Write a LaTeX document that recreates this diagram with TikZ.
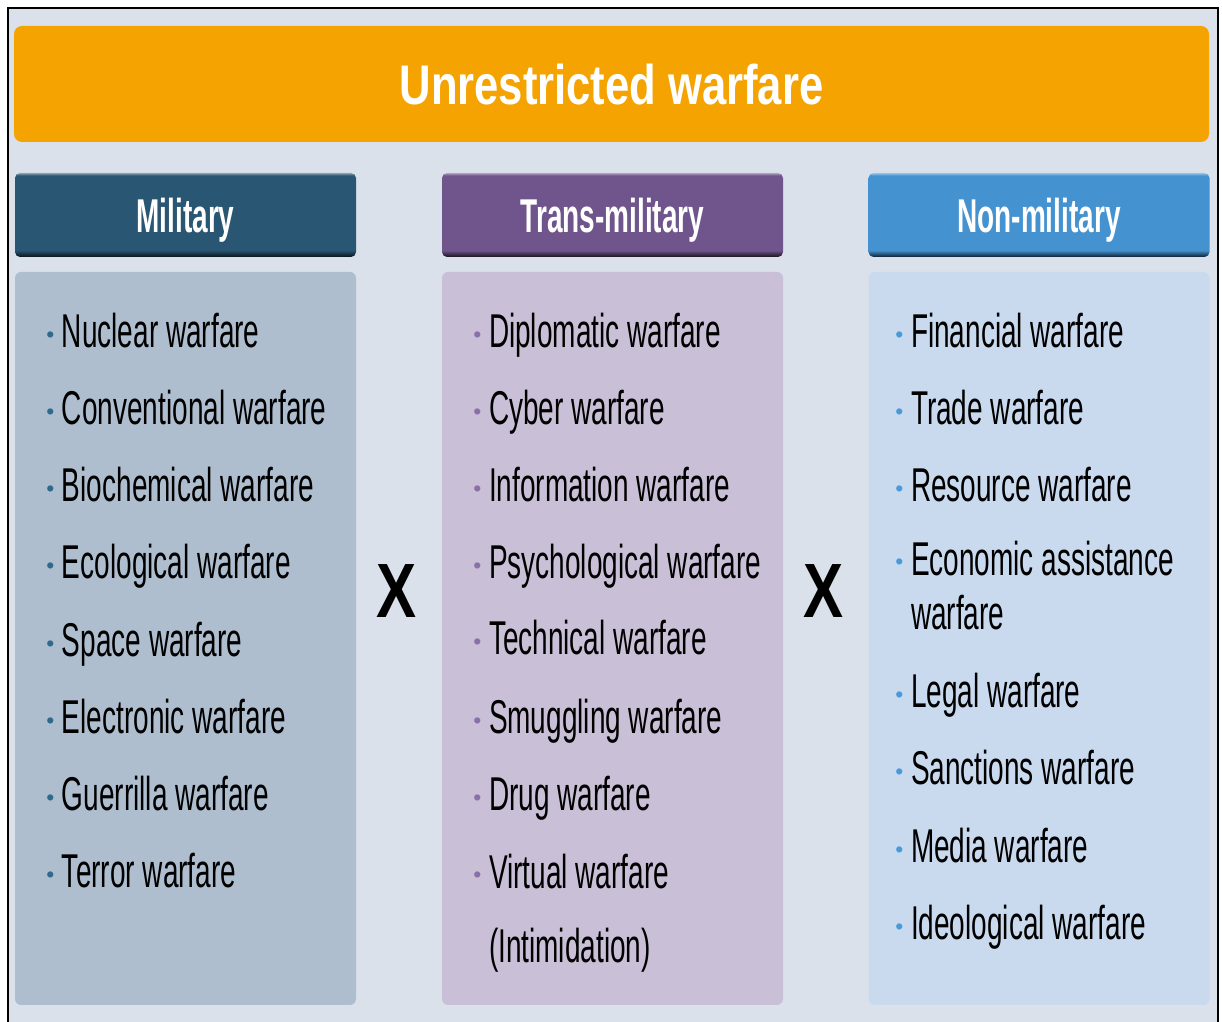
\documentclass[tikz,border=0pt]{standalone}
\usepackage{fontspec}
\setmainfont{Liberation Sans}
\newfontfamily\narrowfont{Liberation Sans}[FakeStretch=0.59]
\newfontfamily\widefont{Liberation Sans}[FakeStretch=0.78]
\usetikzlibrary{positioning}

\definecolor{bgc}{HTML}{DAE1EA}
\definecolor{orng}{HTML}{F4A300}
\definecolor{milc}{HTML}{295672}
\definecolor{trac}{HTML}{70558C}
\definecolor{nonc}{HTML}{4493D0}
\definecolor{milp}{HTML}{AEBECF}
\definecolor{trap}{HTML}{C9BFD6}
\definecolor{nonp}{HTML}{C9D9EE}
\definecolor{milb}{HTML}{2F6A8C}
\definecolor{trab}{HTML}{8A6FA8}
\definecolor{nonb}{HTML}{4A9ADA}
\colorlet{btncol}{milc}
\colorlet{btndk}{black}
\colorlet{btnmd}{black}
\colorlet{btnlt}{white}

\pgfdeclareverticalshading[btncol,btndk,btnmd,btnlt]{btnshade}{100bp}{%
  color(0bp)=(btndk); color(25bp)=(btndk); color(27bp)=(btnmd);
  color(29bp)=(btncol); color(73.5bp)=(btncol); color(75bp)=(btnlt);
  color(100bp)=(btnlt)}

\newcommand{\bulmark}[1]{\llap{\textcolor{#1}{\raisebox{1.6pt}{\rmfamily\fontsize{6.5}{6.5}\selectfont\textbullet}}\hspace{2.2pt}}}

\begin{document}
\begin{tikzpicture}[
      x=0.1mm, y=-0.1mm,
      every node/.style={
        inner sep=0pt,
        outer sep=0pt
      },
      hdr/.style={
        shading=btnshade,
        /utils/exec={\colorlet{btncol}{#1}\colorlet{btndk}{#1!20!black}%
          \colorlet{btnmd}{#1!60!black}\colorlet{btnlt}{#1!55!white}},
        rounded corners=0.5mm,
        minimum width=34.1mm,
        minimum height=8.4mm,
        text=white,
        text height=9.7pt,
        text depth=0pt,
        font=\narrowfont\bfseries\fontsize{13.5}{15}\selectfont
      },
      pnl/.style={
        fill=#1,
        rounded corners=0.6mm,
        minimum width=34.1mm,
        minimum height=73.3mm
      },
      itm2/.style={
        anchor=base west,
        align=left,
        font=\narrowfont\fontsize{13.5}{15.6}\selectfont
      },
      itm/.style={
        itm2,
        execute at begin node={\bulmark{#1}}
      },
      crs/.style={
        text height=15.6pt,
        text depth=0pt,
        font=\widefont\bfseries\fontsize{21.9}{24}\selectfont
      }
    ]
      \useasboundingbox (0,0) rectangle (1222,1022);
      \clip (0,0) rectangle (1222,1022);
      \fill[white] (0,0) rectangle (1222,1022);
      \draw[fill=bgc, line width=0.2mm] (8,8) rectangle (1218,1040);

      \node[
        fill=orng,
        rounded corners=0.8mm,
        minimum width=119.5mm,
        minimum height=11.6mm,
        text=white,
        text height=11.4pt,
        text depth=0pt,
        font=\widefont\bfseries\fontsize{15.9}{18}\selectfont
      ] (title) at (611.5,84) {Unrestricted warfare};

      \node[hdr=milc] (milh) at (185.5,215) {Military};
      \node[hdr=trac] (trah) at (612.5,215) {Trans-military};
      \node[hdr=nonc] (nonh) at (1039,215) {Non-military};

      \node[pnl=milp] (milbox) at (185.5,638.5) {};
      \node[pnl=trap] (trabox) at (612.5,638.5) {};
      \node[pnl=nonp] (nonbox) at (1039,638.5) {};

      \node[itm=milb] (m1) at (62,348) {Nuclear warfare};
      \node[itm=milb] (m2) at (62,425) {Conventional warfare};
      \node[itm=milb] (m3) at (62,502) {Biochemical warfare};
      \node[itm=milb] (m4) at (62,579) {Ecological warfare};
      \node[itm=milb] (m5) at (62,657) {Space warfare};
      \node[itm=milb] (m6) at (62,734) {Electronic warfare};
      \node[itm=milb] (m7) at (62,811) {Guerrilla warfare};
      \node[itm=milb] (m8) at (62,888) {Terror warfare};

      \node[itm=trab] (t1) at (489,348) {Diplomatic warfare};
      \node[itm=trab] (t2) at (489,425) {Cyber warfare};
      \node[itm=trab] (t3) at (489,502) {Information warfare};
      \node[itm=trab] (t4) at (489,579) {Psychological warfare};
      \node[itm=trab] (t5) at (489,655) {Technical warfare};
      \node[itm=trab] (t6) at (489,734) {Smuggling warfare};
      \node[itm=trab] (t7) at (489,811) {Drug warfare};
      \node[itm2] (t8) at (489,963) {\bulmark{trab}Virtual warfare\\[5.7pt](Intimidation)};

      \node[itm=nonb] (n1) at (911,348) {Financial warfare};
      \node[itm=nonb] (n2) at (911,425) {Trade warfare};
      \node[itm=nonb] (n3) at (911,502) {Resource warfare};
      \node[itm2] (n4) at (911,630) {\bulmark{nonb}Economic assistance\\warfare};
      \node[itm=nonb] (n5) at (911,708) {Legal warfare};
      \node[itm=nonb] (n6) at (911,785) {Sanctions warfare};
      \node[itm=nonb] (n7) at (911,863) {Media warfare};
      \node[itm=nonb] (n8) at (911,940) {Ideological warfare};

      \node[crs] (x1) at (397,590) {X};
      \node[crs] (x2) at (824,590) {X};
    \end{tikzpicture}
\end{document}
